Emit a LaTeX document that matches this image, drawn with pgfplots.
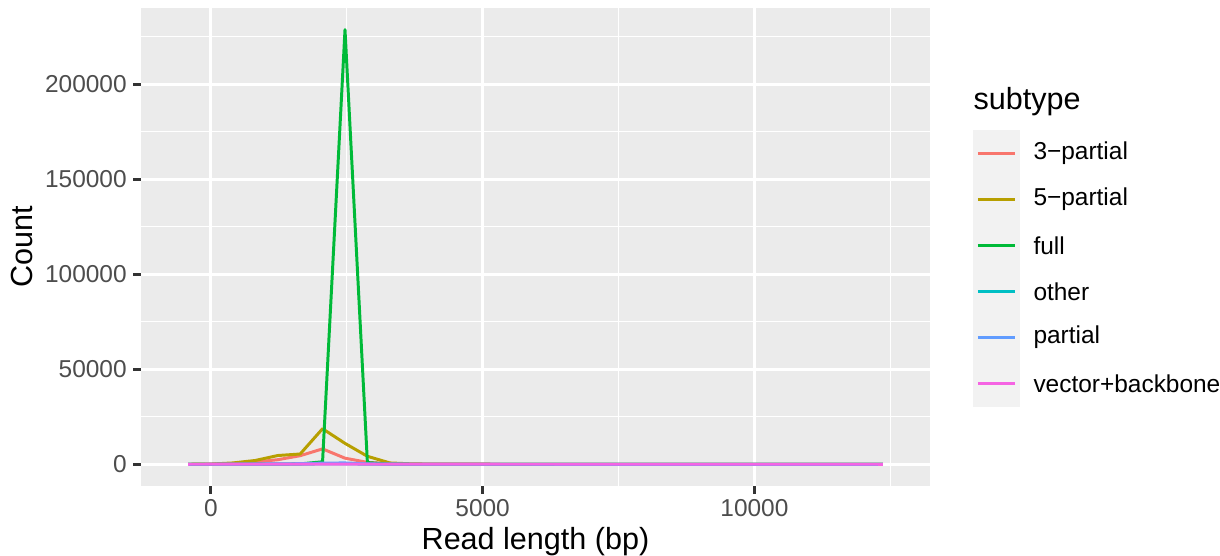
\documentclass[border=0pt]{standalone}
\usepackage{fontspec}
\setmainfont{Liberation Sans}
\usepackage{pgfplots}
\pgfplotsset{compat=1.18}

\definecolor{c3p}{HTML}{F8766D}
\definecolor{c5p}{HTML}{B79F00}
\definecolor{cfull}{HTML}{00BA38}
\definecolor{cother}{HTML}{00BFC4}
\definecolor{cpart}{HTML}{619CFF}
\definecolor{cvec}{HTML}{F564E3}
\definecolor{grey92}{HTML}{EBEBEB}
\definecolor{grey95}{HTML}{F2F2F2}
\definecolor{grey30}{HTML}{4D4D4D}
\definecolor{grey20}{HTML}{333333}

\newcommand{\ggtext}{\fontsize{8.8}{10}\selectfont}
\newcommand{\ggtitle}{\fontsize{11}{13}\selectfont}

\begin{document}
\begin{tikzpicture}
\begin{axis}[
  scale only axis,
  width=284.04pt, height=172.08pt,
  xmin=-1285, xmax=13230,
  ymin=-11435, ymax=240135,
  xtick={0,5000,10000},
  xticklabels={0,5000,10000},
  ytick={0,50000,100000,150000,200000},
  yticklabels={0,50000,100000,150000,200000},
  minor xtick={2500,7500,12500},
  minor ytick={25000,75000,125000,175000,225000},
  scaled ticks=false,
  axis background/.style={fill=grey92},
  axis line style={draw=none},
  grid=both,
  major grid style={white, line width=1.07pt},
  minor grid style={white, line width=0.53pt},
  tick align=outside,
  major tick length=2.75pt,
  minor tick length=0pt,
  tick style={grey20, line width=1.07pt},
  xtick pos=bottom, ytick pos=left,
  tick label style={font=\ggtext, text=grey30, inner sep=0pt},
  yticklabel style={xshift=-2.2pt},
  xticklabel style={yshift=-1.9pt},
  xlabel={Read length (bp)},
  ylabel={Count},
  label style={font=\ggtitle},
  xlabel style={at={(rel axis cs:0.5,-0.1172)}, anchor=center},
  ylabel style={at={(rel axis cs:-0.1508,0.5)}, anchor=center},
  every axis plot/.append style={line width=1.07pt, line join=round},
]
% 3-partial
\addplot[c3p] coordinates {
  (-419,0) (-7,80) (406,400) (818,1200) (1231,2400) (1643,4500) (2055,8100)
  (2468,3200) (2880,1000) (3293,300) (3705,120) (4117,60) (4530,30) (4942,20)
  (5355,10) (5767,10) (6179,5) (6592,5) (7004,3) (7417,2) (7829,2) (8241,1)
  (8654,1) (9066,1) (9479,0) (9891,0) (10303,0) (10716,0) (11128,0) (11541,0)
  (11953,0) (12365,0)
};
% 5-partial
\addplot[c5p] coordinates {
  (-419,0) (-7,100) (406,700) (818,2000) (1231,4600) (1643,5400) (2055,18700)
  (2468,11000) (2880,4200) (3293,700) (3705,200) (4117,80) (4530,40) (4942,20)
  (5355,10) (5767,8) (6179,5) (6592,4) (7004,3) (7417,2) (7829,2) (8241,1)
  (8654,1) (9066,1) (9479,0) (9891,0) (10303,0) (10716,0) (11128,0) (11541,0)
  (11953,0) (12365,0)
};
% full
\addplot[cfull] coordinates {
  (-419,0) (-7,0) (406,5) (818,20) (1231,60) (1643,200) (2055,1300)
  (2468,228700) (2880,900) (3293,50) (3705,10) (4117,5) (4530,2) (4942,1)
  (5355,0) (5767,0) (6179,0) (6592,0) (7004,0) (7417,0) (7829,0) (8241,0)
  (8654,0) (9066,0) (9479,0) (9891,0) (10303,0) (10716,0) (11128,0) (11541,0)
  (11953,0) (12365,0)
};
% other
\addplot[cother] coordinates {
  (-419,0) (-7,5) (406,10) (818,30) (1231,60) (1643,100) (2055,150)
  (2468,200) (2880,80) (3293,20) (3705,10) (4117,5) (4530,3) (4942,2)
  (5355,1) (5767,1) (6179,0) (6592,0) (7004,0) (7417,0) (7829,0) (8241,0)
  (8654,0) (9066,0) (9479,0) (9891,0) (10303,0) (10716,0) (11128,0) (11541,0)
  (11953,0) (12365,0)
};
% partial
\addplot[cpart] coordinates {
  (-419,0) (-7,10) (406,30) (818,100) (1231,200) (1643,300) (2055,600)
  (2468,700) (2880,200) (3293,50) (3705,10) (4117,5) (4530,3) (4942,2)
  (5355,1) (5767,1) (6179,1) (6592,0) (7004,0) (7417,0) (7829,0) (8241,0)
  (8654,0) (9066,0) (9479,0) (9891,0) (10303,0) (10716,0) (11128,0) (11541,0)
  (11953,0) (12365,0)
};
% vector+backbone
\addplot[cvec] coordinates {
  (-419,0) (-7,20) (406,40) (818,60) (1231,80) (1643,90) (2055,100)
  (2468,90) (2880,60) (3293,40) (3705,30) (4117,25) (4530,20) (4942,18)
  (5355,15) (5767,14) (6179,12) (6592,11) (7004,10) (7417,9) (7829,8) (8241,8)
  (8654,7) (9066,6) (9479,6) (9891,5) (10303,5) (10716,4) (11128,4) (11541,3)
  (11953,3) (12365,0)
};
\end{axis}

% legend (ggplot style)
\node[anchor=base west, inner sep=0pt, font=\ggtitle] at (299.5pt,135.4pt) {subtype};
\fill[grey95] (299.5pt,28.55pt) rectangle (316.4pt,128.16pt);
\foreach \c/\t [count=\i from 0] in {c3p/3−partial, c5p/5−partial, cfull/full,
    cother/other, cpart/partial, cvec/vector+backbone} {
  \pgfmathsetmacro{\yy}{128.16-16.6*(\i+0.5)}
  \draw[\c, line width=1.07pt] (301.3pt,\yy pt) -- (314.6pt,\yy pt);
  \node[anchor=west, inner sep=0pt, font=\ggtext] at (321.1pt,\yy pt) {\t};
}

\pgfresetboundingbox
\path[use as bounding box] (-50.76pt,-25.2pt) rectangle (388.44pt,174.96pt);
\end{tikzpicture}
\end{document}
